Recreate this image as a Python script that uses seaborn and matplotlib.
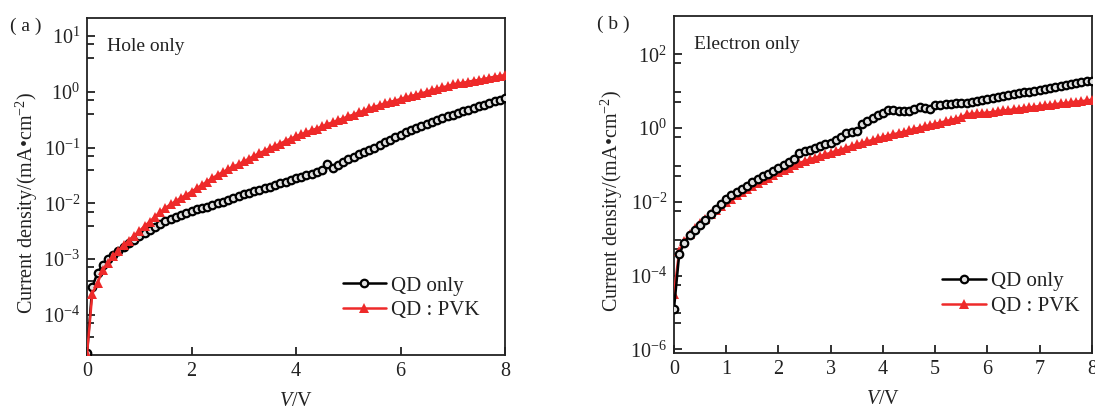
import numpy as np
import pandas as pd
import seaborn as sns
import matplotlib.pyplot as plt
from matplotlib.ticker import FixedLocator, NullFormatter

# voltage sweep (0 to 8 V, 0.1 V step)
voltage = np.linspace(0, 8, 81)

# log10 of current density (mA/cm2)
hole_qd_log = [-4.68, -3.50, -3.25, -3.10, -3.00, -2.93, -2.85, -2.78, -2.71, -2.65,
               -2.59, -2.53, -2.48, -2.42, -2.37, -2.32, -2.28, -2.24, -2.21, -2.17,
               -2.14, -2.11, -2.08, -2.06, -2.03, -2.00, -1.97, -1.94, -1.91, -1.87,
               -1.84, -1.81, -1.78, -1.76, -1.73, -1.70, -1.67, -1.64, -1.61, -1.58,
               -1.55, -1.52, -1.50, -1.47, -1.44, -1.41, -1.29, -1.36, -1.31, -1.26,
               -1.21, -1.17, -1.12, -1.08, -1.04, -1.00, -0.95, -0.91, -0.86, -0.81,
               -0.77, -0.73, -0.69, -0.65, -0.61, -0.57, -0.54, -0.50, -0.47, -0.44,
               -0.41, -0.38, -0.35, -0.32, -0.29, -0.26, -0.23, -0.20, -0.17, -0.14,
               -0.11]
hole_pvk_log = [-4.70, -3.62, -3.43, -3.20, -3.08, -2.95, -2.85, -2.75, -2.67, -2.58,
                -2.50, -2.41, -2.33, -2.24, -2.16, -2.08, -2.02, -1.96, -1.90, -1.85,
                -1.79, -1.73, -1.67, -1.61, -1.55, -1.49, -1.44, -1.39, -1.34, -1.30,
                -1.25, -1.20, -1.15, -1.10, -1.06, -1.01, -0.97, -0.93, -0.88, -0.84,
                -0.80, -0.76, -0.73, -0.69, -0.66, -0.62, -0.58, -0.55, -0.51, -0.48,
                -0.44, -0.41, -0.37, -0.34, -0.30, -0.27, -0.24, -0.21, -0.18, -0.16,
                -0.13, -0.10, -0.08, -0.05, -0.03, 0.00, 0.03, 0.05, 0.08, 0.10,
                0.13, 0.15, 0.16, 0.18, 0.20, 0.21, 0.23, 0.25, 0.27, 0.28,
                0.30]
elec_qd_log = [-4.90, -3.42, -3.11, -2.89, -2.75, -2.62, -2.48, -2.34, -2.20, -2.05,
               -1.91, -1.82, -1.73, -1.64, -1.56, -1.47, -1.39, -1.31, -1.23, -1.15,
               -1.07, -1.00, -0.92, -0.84, -0.67, -0.62, -0.58, -0.53, -0.49, -0.44,
               -0.40, -0.33, -0.24, -0.13, -0.11, -0.09, 0.12, 0.20, 0.27, 0.35,
               0.42, 0.49, 0.48, 0.47, 0.47, 0.46, 0.52, 0.58, 0.55, 0.53,
               0.62, 0.64, 0.65, 0.66, 0.67, 0.68, 0.68, 0.71, 0.74, 0.77,
               0.80, 0.82, 0.85, 0.87, 0.90, 0.92, 0.94, 0.97, 0.99, 1.02,
               1.04, 1.07, 1.09, 1.12, 1.14, 1.17, 1.20, 1.22, 1.25, 1.27,
               1.29]
elec_pvk_log = [-4.50, -3.33, -3.07, -2.88, -2.72, -2.58, -2.46, -2.34, -2.22, -2.11,
                -2.00, -1.91, -1.82, -1.73, -1.64, -1.56, -1.49, -1.41, -1.34, -1.27,
                -1.20, -1.14, -1.08, -1.01, -0.95, -0.89, -0.85, -0.80, -0.76, -0.71,
                -0.67, -0.62, -0.58, -0.53, -0.49, -0.44, -0.40, -0.36, -0.32, -0.28,
                -0.24, -0.20, -0.17, -0.13, -0.10, -0.06, -0.02, 0.01, 0.05, 0.08,
                0.12, 0.15, 0.19, 0.22, 0.26, 0.29, 0.38, 0.39, 0.40, 0.41,
                0.42, 0.44, 0.46, 0.48, 0.49, 0.51, 0.53, 0.55, 0.56, 0.58,
                0.60, 0.62, 0.63, 0.65, 0.67, 0.68, 0.70, 0.72, 0.73, 0.75,
                0.77]

series_labels = ["QD only", "QD : PVK"]
panel_labels = ["( a )", "( b )"]
panel_titles = ["Hole only", "Electron only"]

hole_df = pd.DataFrame({"V": voltage,
                        "qd": 10 ** np.array(hole_qd_log),
                        "pvk": 10 ** np.array(hole_pvk_log)})
elec_df = pd.DataFrame({"V": voltage,
                        "qd": 10 ** np.array(elec_qd_log),
                        "pvk": 10 ** np.array(elec_pvk_log)})

sns.set_theme(style="ticks")
plt.rcParams["font.family"] = ["Liberation Serif", "DejaVu Serif"]
plt.rcParams["mathtext.fontset"] = "custom"
plt.rcParams["mathtext.rm"] = "Liberation Serif"
plt.rcParams["mathtext.it"] = "Liberation Serif:italic"
plt.rcParams["text.color"] = "#222222"
plt.rcParams["axes.labelcolor"] = "#222222"
plt.rcParams["xtick.color"] = "#222222"
plt.rcParams["ytick.color"] = "#222222"

fig = plt.figure(figsize=(10.95, 4.13), dpi=100)
ax_a = fig.add_axes([0.0795, 0.1404, 0.3817, 0.816])
ax_b = fig.add_axes([0.6155, 0.1453, 0.3817, 0.816])

qd_style = dict(color="black", marker="o", markersize=5.4, markeredgewidth=1.6,
                markerfacecolor="#e0e0e0", markeredgecolor="black", linewidth=1.8)
pvk_style = dict(color="#ee2a2a", marker="^", markersize=7, markeredgewidth=0,
                 markerfacecolor="#ee2a2a", linewidth=1.8)

legend_anchor = {0: (0.96, 0.078), 1: (0.99, 0.085)}

for i, (ax, df, red_top) in enumerate([(ax_a, hole_df, True), (ax_b, elec_df, False)]):
    sns.lineplot(data=df, x="V", y="qd", ax=ax, estimator=None, sort=False,
                 label=series_labels[0], zorder=3 if red_top else 4, **qd_style)
    sns.lineplot(data=df, x="V", y="pvk", ax=ax, estimator=None, sort=False,
                 label=series_labels[1], zorder=4 if red_top else 3, **pvk_style)
    ax.set_yscale("log")
    ax.set_xlim(0, 8)
    for s in ax.spines.values():
        s.set_linewidth(1.3)
        s.set_color("#222222")
    ax.tick_params(which="both", direction="in", top=False, right=False,
                   labelsize=14.5, width=1.3, pad=5)
    ax.tick_params(which="major", length=6)
    ax.tick_params(which="minor", length=5)
    ax.set_xlabel("$V$/V", fontsize=14.5, labelpad=8)
    ax.set_ylabel("Current density/(mA\u2022cm$^{-2}$)", fontsize=14.5)
    ax.legend(loc="lower right", bbox_to_anchor=legend_anchor[i], frameon=False,
              fontsize=15, handlelength=2.1, handletextpad=0.25,
              labelspacing=0.25, borderaxespad=0)

ax_a.yaxis.set_label_coords(-0.112, 0.45)
ax_b.yaxis.set_label_coords(-0.118, 0.45)

# panel (a)
ax_a.set_ylim(1.9e-5, 21)
ax_a.set_xticks([0, 2, 4, 6, 8])
a_major = [1e-4, 1e-3, 1e-2, 1e-1, 1e0, 1e1]
a_labels = ["$10^{-4}$", "$10^{-3}$", "$10^{-2}$", "$10^{-1}$", "$10^{0}$", "$10^{1}$"]
ax_a.yaxis.set_major_locator(FixedLocator(a_major))
ax_a.set_yticklabels(a_labels)
a_minor = [10 ** (n - d) for n in range(-4, 2) for d in (0.15, 0.4)]
ax_a.yaxis.set_minor_locator(FixedLocator(a_minor))
ax_a.yaxis.set_minor_formatter(NullFormatter())

# panel (b)
ax_b.set_ylim(8e-7, 1.1e3)
ax_b.set_xticks([0, 1, 2, 3, 4, 5, 6, 7, 8])
b_major = [1e-6, 1e-4, 1e-2, 1e0, 1e2]
b_labels = ["$10^{-6}$", "$10^{-4}$", "$10^{-2}$", "$10^{0}$", "$10^{2}$"]
ax_b.yaxis.set_major_locator(FixedLocator(b_major))
ax_b.set_yticklabels(b_labels)
b_minor = [10 ** (n - d) for n in range(-4, 3, 2) for d in (0.24, 1.02, 1.29)]
ax_b.yaxis.set_minor_locator(FixedLocator(b_minor))
ax_b.yaxis.set_minor_formatter(NullFormatter())

for ax, lab, title in [(ax_a, panel_labels[0], panel_titles[0]),
                       (ax_b, panel_labels[1], panel_titles[1])]:
    ax.text(-0.185, 0.975, lab, transform=ax.transAxes, fontsize=14,
            va="center", ha="left")
    ax.text(0.048, 0.915, title, transform=ax.transAxes, fontsize=14,
            va="center", ha="left")

fig.savefig("out.png", dpi=100)
